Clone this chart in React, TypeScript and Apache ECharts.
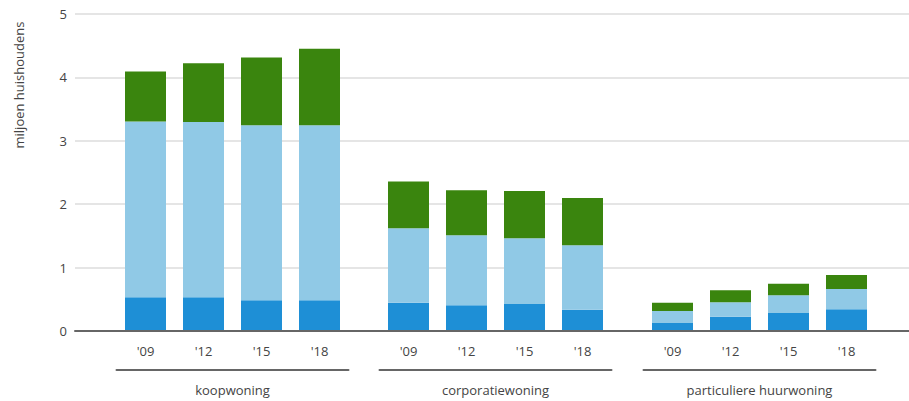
import React, { useEffect, useRef } from "react";
import * as echarts from "echarts";

const years = ["'09", "'12", "'15", "'18"];
const groups = ["koopwoning", "corporatiewoning", "particuliere huurwoning"];

// segment values per group (miljoen huishoudens)
const darkBlue = [
  [0.52, 0.52, 0.47, 0.47],
  [0.43, 0.39, 0.41, 0.32],
  [0.11, 0.21, 0.27, 0.33],
];
const lightBlue = [
  [2.78, 2.77, 2.77, 2.77],
  [1.18, 1.11, 1.04, 1.02],
  [0.19, 0.23, 0.28, 0.32],
];
const green = [
  [0.79, 0.93, 1.07, 1.21],
  [0.74, 0.71, 0.75, 0.75],
  [0.13, 0.19, 0.18, 0.22],
];
const yTicks = [0, 1, 2, 3, 4, 5];

const COLORS = ["#1e8fd6", "#90c9e6", "#3a850e"];
const FONT = "'Open Sans', sans-serif";
const TEXT = "#444";

export default function App() {
  const ref = useRef<HTMLDivElement>(null);
  useEffect(() => {
    document.body.style.margin = "0";
    const chart = echarts.init(ref.current!, null, { renderer: "svg" });
    const top = 14;
    const height = 317;
    const groupLefts = [116.5, 379.5, 643.5];
    const grids: any[] = [{ left: 75, right: 0, top, height }];
    groupLefts.forEach((l) => grids.push({ left: l, width: 232, top, height }));

    const xAxes: any[] = [
      {
        type: "category",
        gridIndex: 0,
        data: [""],
        axisLine: { show: true, lineStyle: { color: "#666", width: 2 } },
        axisTick: { show: false },
        axisLabel: { show: false },
      },
    ];
    groups.forEach((_, i) => {
      xAxes.push({
        type: "category",
        gridIndex: i + 1,
        data: years,
        axisLine: { show: false },
        axisTick: { show: false },
        axisLabel: { color: TEXT, fontFamily: FONT, fontSize: 13, margin: 14 },
      });
    });
    groups.forEach((g, i) => {
      xAxes.push({
        type: "category",
        gridIndex: i + 1,
        data: years,
        position: "bottom",
        offset: 40,
        axisLine: { show: true, lineStyle: { color: "#666", width: 2 } },
        axisTick: { show: false },
        axisLabel: { show: false },
        name: g,
        nameLocation: "middle",
        nameGap: 13,
        nameTextStyle: { color: TEXT, fontFamily: FONT, fontSize: 13 },
      });
    });

    const yAxes: any[] = [
      {
        type: "value",
        gridIndex: 0,
        min: yTicks[0],
        max: yTicks[yTicks.length - 1],
        interval: 1,
        axisLine: { show: false },
        axisTick: { show: false },
        axisLabel: { color: TEXT, fontFamily: FONT, fontSize: 13, margin: 8 },
        splitLine: { lineStyle: { color: "#e5e5e5", width: 2 } },
      },
    ];
    groups.forEach((_, i) => {
      yAxes.push({
        type: "value",
        gridIndex: i + 1,
        min: 0,
        max: 5,
        interval: 1,
        show: false,
        splitLine: { show: false },
      });
    });

    const series: any[] = [];
    groups.forEach((_, i) => {
      [darkBlue, lightBlue, green].forEach((arr, k) => {
        series.push({
          type: "bar",
          xAxisIndex: i + 1,
          yAxisIndex: i + 1,
          stack: "g" + i,
          barWidth: 41,
          data: arr[i],
          itemStyle: { color: COLORS[k] },
          silent: true,
        });
      });
    });

    chart.setOption({
      animation: false,
      grid: grids,
      xAxis: xAxes,
      yAxis: yAxes,
      series,
      graphic: [
        {
          type: "text",
          x: 19,
          y: 85,
          rotation: Math.PI / 2,
          style: {
            text: "miljoen huishoudens",
            fill: TEXT,
            font: `13px ${FONT}`,
            textAlign: "center",
            textVerticalAlign: "middle",
          },
        },
      ],
    });
    return () => chart.dispose();
  }, []);
  return <div ref={ref} style={{ width: 909, height: 401 }} />;
}
